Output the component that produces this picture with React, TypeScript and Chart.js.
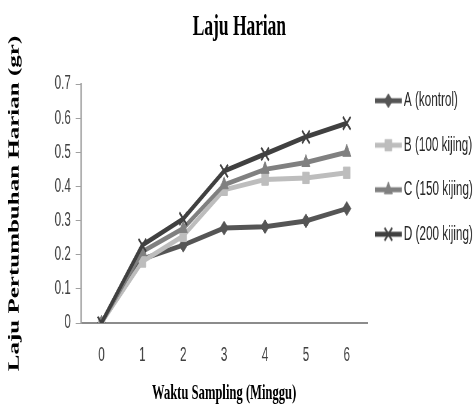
import React, { useEffect, useRef } from 'react';
import { Chart, registerables } from 'chart.js';

Chart.register(...registerables);

// ---- data ----
const categories = ['0', '1', '2', '3', '4', '5', '6'];
const seriesNames = ['A (kontrol)', 'B (100 kijing)', 'C (150 kijing)', 'D (200 kijing)'];
const seriesA = [0, 0.187, 0.228, 0.278, 0.282, 0.299, 0.335];
const seriesB = [0, 0.18, 0.255, 0.39, 0.42, 0.425, 0.44];
const seriesC = [0, 0.209, 0.277, 0.405, 0.45, 0.47, 0.5];
const seriesD = [0, 0.228, 0.305, 0.445, 0.495, 0.545, 0.585];
const yMin = 0;
const yMax = 0.7;
const yStep = 0.1;
const chartTitle = 'Laju Harian';
const xTitle = 'Waktu Sampling (Minggu)';
const yTitle = 'Laju Pertumbuhan Harian (gr)';

// ---- styles ----
const colors = ['#555555', '#bdbdbd', '#808080', '#404040'];
const pointStyles = ['rectRot', 'rect', 'triangle', 'crossRot'];
const pointRadii = [7, 8, 8, 9];
const borderWidths = [1, 1, 1, 2.5];
const SQUISH = 0.6;
const W = 788;
const H = 406;
const LINE_W = 5;
const ICON_W = 51;
const ICON_LINE = 45;

function makeLegendIcon(color: string, style: string, r: number, bw: number): HTMLCanvasElement {
  const c = document.createElement('canvas');
  c.width = ICON_W;
  c.height = 22;
  const ctx = c.getContext('2d') as CanvasRenderingContext2D;
  ctx.strokeStyle = color;
  ctx.fillStyle = color;
  ctx.lineWidth = LINE_W;
  ctx.beginPath();
  ctx.moveTo(0, 11);
  ctx.lineTo(ICON_LINE, 11);
  ctx.stroke();
  const x = ICON_LINE / 2;
  const y = 11;
  ctx.lineWidth = bw;
  ctx.beginPath();
  if (style === 'rectRot') {
    ctx.moveTo(x - r, y);
    ctx.lineTo(x, y - r);
    ctx.lineTo(x + r, y);
    ctx.lineTo(x, y + r);
    ctx.closePath();
    ctx.fill();
    ctx.stroke();
  } else if (style === 'rect') {
    const s = r * Math.SQRT1_2;
    ctx.rect(x - s, y - s, 2 * s, 2 * s);
    ctx.fill();
    ctx.stroke();
  } else if (style === 'triangle') {
    let a = 0;
    ctx.moveTo(x + Math.sin(a) * r, y - Math.cos(a) * r);
    a += (2 * Math.PI) / 3;
    ctx.lineTo(x + Math.sin(a) * r, y - Math.cos(a) * r);
    a += (2 * Math.PI) / 3;
    ctx.lineTo(x + Math.sin(a) * r, y - Math.cos(a) * r);
    ctx.closePath();
    ctx.fill();
    ctx.stroke();
  } else {
    const o = r * Math.SQRT1_2;
    ctx.moveTo(x - o, y - o);
    ctx.lineTo(x + o, y + o);
    ctx.moveTo(x - o, y + o);
    ctx.lineTo(x + o, y - o);
    ctx.stroke();
  }
  return c;
}

export default function App() {
  const canvasRef = useRef<HTMLCanvasElement | null>(null);

  useEffect(() => {
    if (!canvasRef.current) return;
    const seriesValues = [seriesA, seriesB, seriesC, seriesD];
    const icons = seriesNames.map((_, i) =>
      makeLegendIcon(colors[i], pointStyles[i], pointRadii[i], borderWidths[i])
    );
    const datasets = seriesNames.map((name, i) => ({
      label: name,
      data: seriesValues[i],
      xAxisID: 'x',
      yAxisID: 'y',
      borderColor: colors[i],
      backgroundColor: colors[i],
      borderWidth: LINE_W,
      tension: 0,
      pointStyle: pointStyles[i] as any,
      pointRadius: pointRadii[i],
      pointHoverRadius: pointRadii[i],
      pointBorderWidth: borderWidths[i],
      pointBackgroundColor: colors[i],
      pointBorderColor: colors[i],
      order: seriesNames.length - 1 - i,
    }));

    const serif = '"Liberation Serif", "Times New Roman", serif';
    const sans = '"Liberation Sans", Arial, sans-serif';

    const chart = new Chart(canvasRef.current, {
      type: 'line',
      data: { labels: categories, datasets },
      options: {
        animation: false,
        responsive: true,
        maintainAspectRatio: false,
        layout: { padding: { left: 0, top: 0, bottom: 0, right: -10 } },
        plugins: {
          tooltip: { enabled: false },
          title: {
            display: true,
            text: chartTitle,
            color: '#000',
            font: { family: serif, size: 29, weight: 'bold', lineHeight: 1.2 },
            padding: { top: 10.6, bottom: 21.1 },
          },
          legend: {
            display: true,
            position: 'right',
            align: 'start',
            title: {
              display: true,
              text: '',
              font: { size: 10, lineHeight: 1 },
              padding: { top: 0, bottom: 56 },
            },
            labels: {
              usePointStyle: true,
              pointStyleWidth: 26.35,
              padding: 25,
              color: '#262626',
              font: { family: sans, size: 19.5 },
              sort: (a: any, b: any) => a.datasetIndex - b.datasetIndex,
              generateLabels: (ch: any) => {
                const base = Chart.defaults.plugins.legend.labels.generateLabels(ch);
                return base.map((item: any) => ({
                  ...item,
                  pointStyle: icons[item.datasetIndex],
                }));
              },
            },
          },
        },
        scales: {
          x: {
            type: 'category',
            position: 'bottom',
            offset: true,
            grid: { display: false, drawTicks: false },
            border: { display: true, color: '#8c8c8c', width: 2 },
            ticks: { color: '#404040', font: { family: sans, size: 19.5 }, padding: 21 },
            title: {
              display: true,
              text: xTitle,
              color: '#000',
              font: { family: serif, size: 21, weight: 'bold', lineHeight: 1.2 },
              padding: { top: 11.8, bottom: 0 },
            },
            afterFit: (s: any) => {
              s.height = 83;
            },
          },
          xTop: {
            type: 'category',
            position: 'top',
            display: true,
            grid: { display: false, drawTicks: false },
            border: { display: false },
            ticks: { display: false },
            afterFit: (s: any) => {
              s.height = 17.5;
            },
          },
          y: {
            type: 'linear',
            position: 'left',
            min: yMin,
            max: yMax,
            grid: {
              display: true,
              drawOnChartArea: false,
              drawTicks: true,
              tickLength: 9,
              color: '#a0a0a0',
            },
            border: { display: true, color: '#a0a0a0', width: 2.5 },
            ticks: {
              stepSize: yStep,
              color: '#404040',
              font: { family: sans, size: 19.5 },
              padding: 8,
            },
            title: {
              display: true,
              text: yTitle,
              color: '#000',
              font: { family: serif, size: 25, weight: 'bold', lineHeight: 1.2 },
              padding: { top: 10, bottom: 40 },
            },
            afterFit: (s: any) => {
              s.width = 135;
            },
          },
        },
      },
    });
    return () => chart.destroy();
  }, []);

  return (
    <div style={{ position: 'absolute', left: 0, top: 0, width: 473, height: H, overflow: 'hidden', background: '#fff' }}>
      <div
        style={{
          position: 'absolute',
          left: 0,
          top: 0,
          width: W,
          height: H,
          transform: `scaleX(${SQUISH})`,
          transformOrigin: '0 0',
        }}
      >
        <canvas ref={canvasRef} />
      </div>
    </div>
  );
}
